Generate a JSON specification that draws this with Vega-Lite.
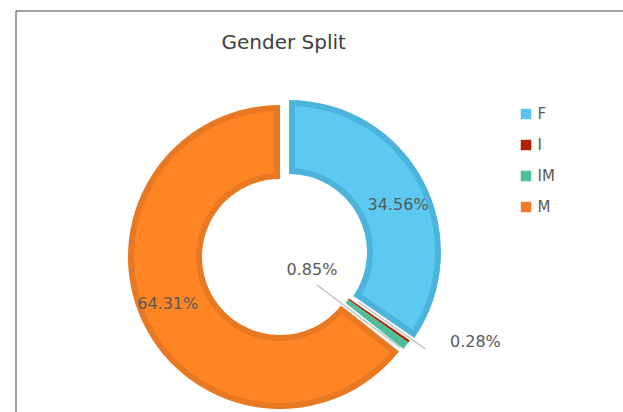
{
  "$schema": "https://vega.github.io/schema/vega-lite/v6.json",
  "width": 620,
  "height": 420,
  "autosize": {"type": "none"},
  "padding": {"left": 15.5, "top": 10.5, "right": 0, "bottom": 0},
  "background": "white",
  "view": {"stroke": "#404040", "strokeWidth": 1, "fill": "white"},
  "title": {
    "text": "Gender Split",
    "anchor": "start",
    "frame": "group",
    "dx": 206,
    "offset": -42,
    "font": "DejaVu Sans",
    "fontSize": 20,
    "fontWeight": "normal",
    "color": "#404040"
  },
  "config": {
    "style": {"view": {"stroke": "#404040", "strokeWidth": 1}},
    "legend": {
      "title": null,
      "orient": "none",
      "legendX": 503,
      "legendY": 96,
      "symbolType": "square",
      "symbolSize": 110,
      "symbolStrokeWidth": 0,
      "labelFont": "DejaVu Sans",
      "labelFontSize": 15,
      "labelColor": "#595959",
      "rowPadding": 15,
      "labelOffset": 4,
      "padding": 0
    }
  },
  "data": {
    "values": [
      {"gender": "F", "value": 34.56, "label": "34.56%"},
      {"gender": "I", "value": 0.28, "label": "0.28%"},
      {"gender": "IM", "value": 0.85, "label": "0.85%"},
      {"gender": "M", "value": 64.31, "label": "64.31%"}
    ]
  },
  "encoding": {
    "theta": {"field": "value", "type": "quantitative", "stack": true},
    "order": {"field": "gender", "type": "nominal", "sort": "ascending"}
  },
  "layer": [
    {
      "mark": {"type": "arc", "outerRadius": 152, "innerRadius": 78, "fill": "#E97822",
        "x": {"expr": "width/2-45.5"}, "y": {"expr": "height/2+36.5"}},
      "encoding": {"opacity": {"condition": {"test": "datum.gender === 'M'", "value": 1}, "value": 0}}
    },
    {
      "mark": {"type": "arc", "outerRadius": 146, "innerRadius": 84, "padAngle": 0.0713, "fill": "#FF8424",
        "x": {"expr": "width/2-45.5"}, "y": {"expr": "height/2+36.5"}},
      "encoding": {"opacity": {"condition": {"test": "datum.gender === 'M'", "value": 1}, "value": 0}}
    },
    {
      "mark": {"type": "arc", "outerRadius": 152, "innerRadius": 78, "fill": "#4CB3DB",
        "x": {"expr": "width/2-36.5"}, "y": {"expr": "height/2+31.5"}},
      "encoding": {"opacity": {"condition": {"test": "datum.gender === 'F'", "value": 1}, "value": 0}}
    },
    {
      "mark": {"type": "arc", "outerRadius": 146, "innerRadius": 84, "padAngle": 0.0713, "fill": "#5BC9F0",
        "x": {"expr": "width/2-36.5"}, "y": {"expr": "height/2+31.5"}},
      "encoding": {"opacity": {"condition": {"test": "datum.gender === 'F'", "value": 1}, "value": 0}}
    },
    {
      "mark": {"type": "arc", "outerRadius": 152, "innerRadius": 78,
        "x": {"expr": "width/2-41"}, "y": {"expr": "height/2+34"}},
      "encoding": {
        "color": {
          "field": "gender",
          "type": "nominal",
          "scale": {"domain": ["F", "I", "IM", "M"], "range": ["#5BC4EC", "#B22200", "#4FBE9B", "#F07C26"]}
        },
        "opacity": {"condition": {"test": "datum.gender === 'I' || datum.gender === 'IM'", "value": 1}, "value": 0}
      }
    },
    {
      "mark": {"type": "arc", "outerRadius": 150, "innerRadius": 46, "padAngle": 1, "filled": false,
        "stroke": "#BDBDBD", "strokeWidth": 1.3,
        "x": {"expr": "width/2-45.5"}, "y": {"expr": "height/2+36.5"}},
      "encoding": {"opacity": {"condition": {"test": "datum.gender === 'IM'", "value": 1}, "value": 0}}
    },
    {
      "mark": {"type": "arc", "outerRadius": 172, "innerRadius": 90, "padAngle": 1, "filled": false,
        "stroke": "#BDBDBD", "strokeWidth": 1.3,
        "x": {"expr": "width/2-41"}, "y": {"expr": "height/2+30"}},
      "encoding": {"opacity": {"condition": {"test": "datum.gender === 'I'", "value": 1}, "value": 0}}
    },
    {
      "mark": {"type": "text", "radius": 112, "dx": 19, "font": "DejaVu Sans", "fontSize": 16, "fill": "#595959",
        "align": "center", "baseline": "middle",
        "x": {"expr": "width/2-45.5"}, "y": {"expr": "height/2+36.5"}},
      "encoding": {
        "text": {"field": "label"},
        "opacity": {"condition": {"test": "datum.gender === 'F'", "value": 1}, "value": 0}
      }
    },
    {
      "mark": {"type": "text", "radius": 108, "dx": -15, "font": "DejaVu Sans", "fontSize": 16, "fill": "#595959",
        "align": "center", "baseline": "middle",
        "x": {"expr": "width/2-45.5"}, "y": {"expr": "height/2+36.5"}},
      "encoding": {
        "text": {"field": "label"},
        "opacity": {"condition": {"test": "datum.gender === 'M'", "value": 1}, "value": 0}
      }
    },
    {
      "mark": {"type": "text", "radius": 25, "dx": 12, "dy": -2, "font": "DejaVu Sans", "fontSize": 16, "fill": "#595959",
        "align": "center", "baseline": "middle",
        "x": {"expr": "width/2-45.5"}, "y": {"expr": "height/2+36.5"}},
      "encoding": {
        "text": {"field": "label"},
        "opacity": {"condition": {"test": "datum.gender === 'IM'", "value": 1}, "value": 0}
      }
    },
    {
      "mark": {"type": "text", "radius": 148, "dx": 74, "font": "DejaVu Sans", "fontSize": 16, "fill": "#595959",
        "align": "center", "baseline": "middle",
        "x": {"expr": "width/2-45.5"}, "y": {"expr": "height/2+36.5"}},
      "encoding": {
        "text": {"field": "label"},
        "opacity": {"condition": {"test": "datum.gender === 'I'", "value": 1}, "value": 0}
      }
    }
  ]
}
